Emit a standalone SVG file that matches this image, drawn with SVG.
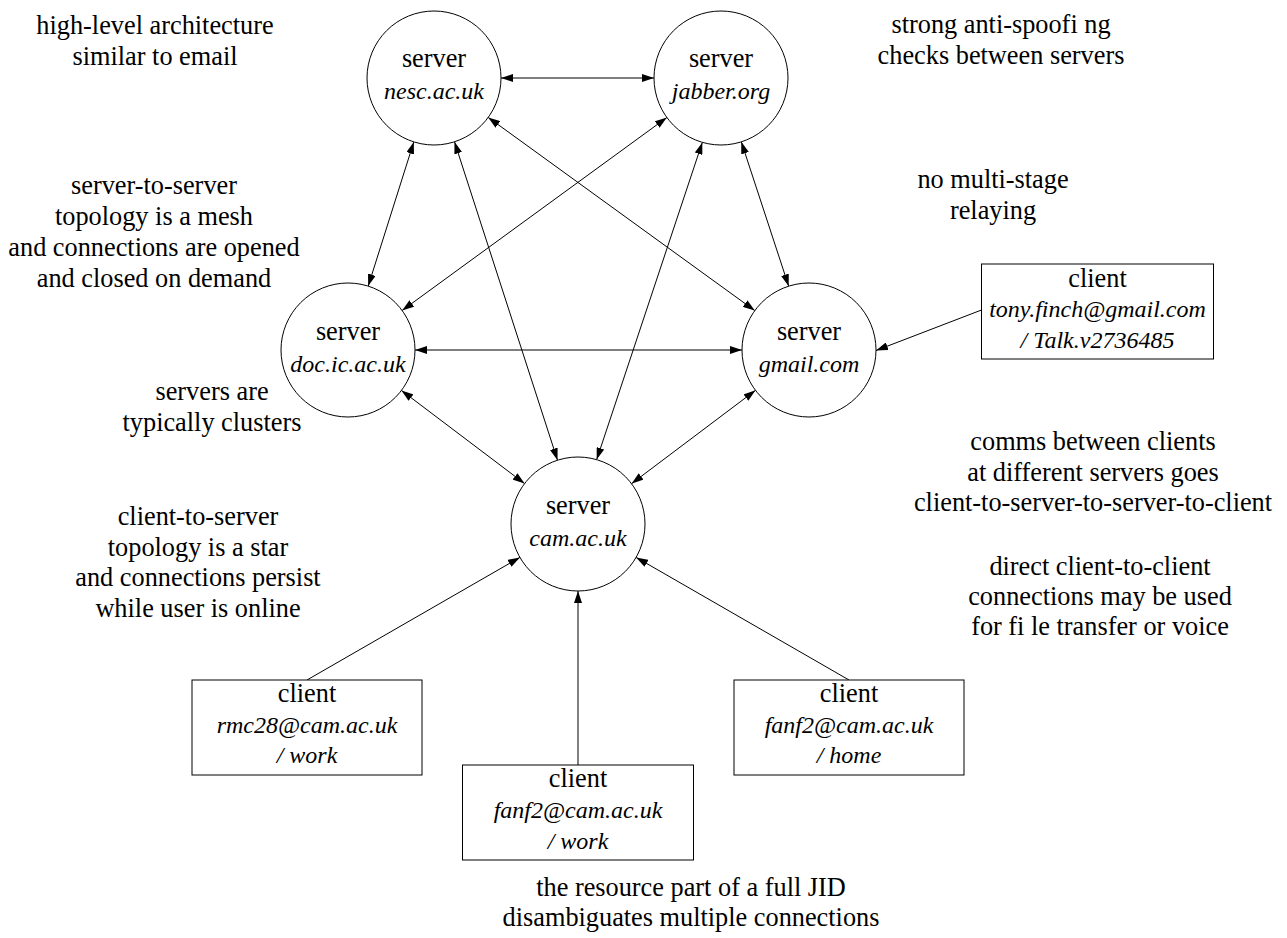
<svg xmlns="http://www.w3.org/2000/svg" width="1287" height="938" viewBox="0 0 1287 938" font-family="'Liberation Serif', 'Times New Roman', Times, serif">
<style>
text{font-family:'Liberation Serif','Times New Roman',Times,serif;font-size:26.3px;fill:#000;text-anchor:middle}
.it{font-style:italic;font-size:24px}
.node{fill:#fff;stroke:#000;stroke-width:1}
.edge{stroke:#000;stroke-width:1;fill:none}
</style>
<defs>
<marker id="ah" viewBox="0 0 12 8" refX="12" refY="4" markerWidth="12" markerHeight="8" markerUnits="userSpaceOnUse" orient="auto-start-reverse">
<path d="M0,0 L12,4 L0,8 z" fill="#000"/>
</marker>
</defs>
<rect width="1287" height="938" fill="#fff"/>
<g id="connectors">
<line class="edge" x1="501" y1="78" x2="654" y2="78" marker-start="url(#ah)" marker-end="url(#ah)"/>
<line class="edge" x1="413.8" y1="141.9" x2="368.2" y2="286.1" marker-start="url(#ah)" marker-end="url(#ah)"/>
<line class="edge" x1="488.2" y1="117.4" x2="754.8" y2="310.6" marker-start="url(#ah)" marker-end="url(#ah)"/>
<line class="edge" x1="454.5" y1="141.8" x2="557.5" y2="460.2" marker-start="url(#ah)" marker-end="url(#ah)"/>
<line class="edge" x1="666.9" y1="117.5" x2="402.1" y2="310.5" marker-start="url(#ah)" marker-end="url(#ah)"/>
<line class="edge" x1="741.3" y1="141.8" x2="788.7" y2="286.2" marker-start="url(#ah)" marker-end="url(#ah)"/>
<line class="edge" x1="702.3" y1="142.4" x2="596.7" y2="459.6" marker-start="url(#ah)" marker-end="url(#ah)"/>
<line class="edge" x1="415" y1="350" x2="742" y2="350" marker-start="url(#ah)" marker-end="url(#ah)"/>
<line class="edge" x1="401.4" y1="390.4" x2="524.6" y2="483.6" marker-start="url(#ah)" marker-end="url(#ah)"/>
<line class="edge" x1="755.5" y1="390.3" x2="631.5" y2="483.7" marker-start="url(#ah)" marker-end="url(#ah)"/>
<line class="edge" x1="981.5" y1="310" x2="876" y2="350.5" marker-end="url(#ah)"/>
<line class="edge" x1="307" y1="680" x2="519.9" y2="557.4" marker-end="url(#ah)"/>
<line class="edge" x1="578" y1="765" x2="578" y2="591" marker-end="url(#ah)"/>
<line class="edge" x1="849" y1="680" x2="636.1" y2="557.4" marker-end="url(#ah)"/>
</g>
<g id="nesc"><circle class="node" cx="434" cy="78" r="67"/><text x="434" y="67">server</text><text class="it" x="434" y="99">nesc.ac.uk</text></g>
<g id="jabber"><circle class="node" cx="721" cy="78" r="67"/><text x="721" y="67">server</text><text class="it" x="721" y="99">jabber.org</text></g>
<g id="doc"><circle class="node" cx="348" cy="350" r="67"/><text x="348" y="340">server</text><text class="it" x="348" y="372">doc.ic.ac.uk</text></g>
<g id="gmail"><circle class="node" cx="809" cy="350" r="67"/><text x="809" y="340">server</text><text class="it" x="809" y="372">gmail.com</text></g>
<g id="cam"><circle class="node" cx="578" cy="524" r="67"/><text x="578" y="514">server</text><text class="it" x="578" y="546">cam.ac.uk</text></g>
<g id="client-tony"><rect class="node" x="981.5" y="264" width="232" height="95"/><text x="1097.5" y="287">client</text><text class="it" x="1097.5" y="317">tony.finch@gmail.com</text><text class="it" x="1097.5" y="348">/ Talk.v2736485</text></g>
<g id="client-rmc28"><rect class="node" x="192" y="680" width="230" height="95"/><text x="307" y="702">client</text><text class="it" x="307" y="733">rmc28@cam.ac.uk</text><text class="it" x="307" y="763">/ work</text></g>
<g id="client-fanf2-work"><rect class="node" x="462.5" y="765" width="231" height="95"/><text x="578" y="787">client</text><text class="it" x="578" y="818">fanf2@cam.ac.uk</text><text class="it" x="578" y="849">/ work</text></g>
<g id="client-fanf2-home"><rect class="node" x="734" y="680" width="230" height="95"/><text x="849" y="702">client</text><text class="it" x="849" y="733">fanf2@cam.ac.uk</text><text class="it" x="849" y="763">/ home</text></g>
<g id="notes">
<text x="155" y="34">high-level architecture</text>
<text x="155" y="65">similar to email</text>
<text x="1001" y="33">strong anti-spoofi ng</text>
<text x="1001" y="63.5">checks between servers</text>
<text x="154" y="194">server-to-server</text>
<text x="154" y="225">topology is a mesh</text>
<text x="154" y="256">and connections are opened</text>
<text x="154" y="287">and closed on demand</text>
<text x="993" y="188">no multi-stage</text>
<text x="993" y="219">relaying</text>
<text x="212" y="400">servers are</text>
<text x="212" y="431">typically clusters</text>
<text x="1093" y="450">comms between clients</text>
<text x="1093" y="481">at different servers goes</text>
<text x="1093" y="511">client-to-server-to-server-to-client</text>
<text x="198" y="525">client-to-server</text>
<text x="198" y="556">topology is a star</text>
<text x="198" y="586">and connections persist</text>
<text x="198" y="617">while user is online</text>
<text x="1100" y="575">direct client-to-client</text>
<text x="1100" y="605">connections may be used</text>
<text x="1100" y="635">for fi le transfer or voice</text>
<text x="691" y="896">the resource part of a full JID</text>
<text x="691" y="926">disambiguates multiple connections</text>
</g>
</svg>
